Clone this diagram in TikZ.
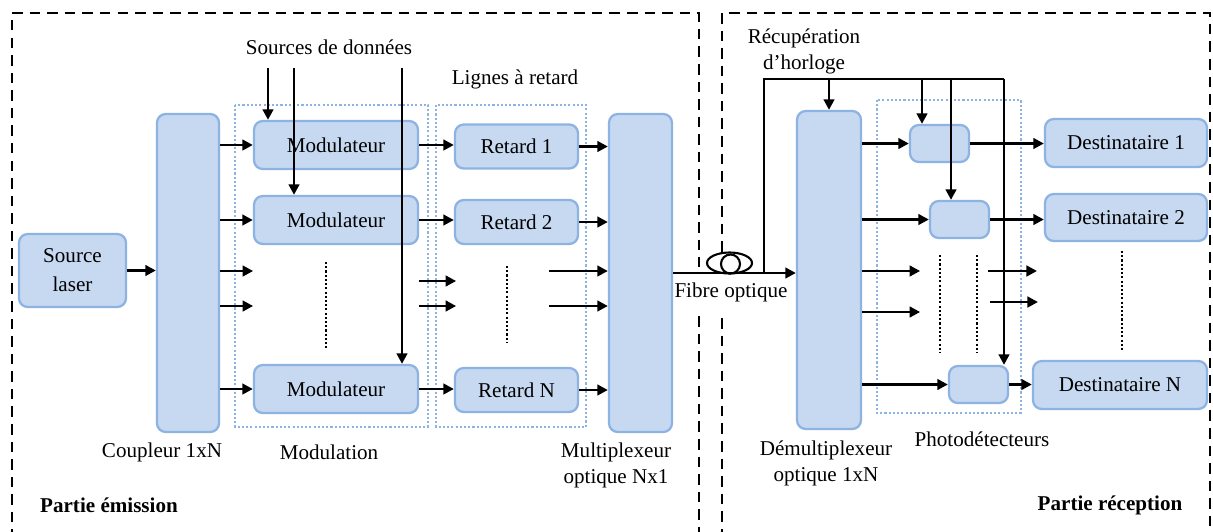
\documentclass[tikz,border=0pt]{standalone}
\usepackage{fontspec}
\setmainfont{Liberation Serif}
\usetikzlibrary{arrows.meta,calc}
\definecolor{boxfill}{HTML}{C6D9F1}
\definecolor{boxline}{HTML}{8DB3E2}
\tikzset{
  blk/.style 2 args={draw=boxline,fill=boxfill,line width=1.3pt,rounded corners=5pt,
    minimum width=#1*0.02cm,minimum height=#2*0.02cm,inner sep=0pt,align=center},
  arr/.style={line width=1.5pt,-{Triangle[length=6pt,width=6pt]}},
  grp/.style={draw=boxline,line width=1.4pt,dash pattern=on 1.2pt off 1.2pt},
  part/.style={line width=1.5pt,dash pattern=on 6pt off 4pt},
  vdots/.style={line width=1.6pt,dash pattern=on 1.2pt off 1.2pt},
}
\begin{document}
\begin{tikzpicture}[x=0.02cm,y=-0.02cm,font=\fontsize{12}{14.8}\selectfont]
\useasboundingbox (0,0) rectangle (1213,531);
%\draw[step=100,gray,very thin] (0,0) grid (1213,531);
\draw[part] (12,540) -- (12,13) -- (699,13) -- (699,267);
\draw[part] (699,316) -- (699,540);
\draw[part] (722,252) -- (722,13) -- (1210,13) -- (1210,540);
\draw[part] (722,318) -- (722,540);

\draw[grp] (235,105) rectangle (428,427);
\draw[grp] (436,105) rectangle (586,427);
\draw[grp] (877,100) rectangle (1021,413);

\node[blk={107}{73},font=\fontsize{12}{16.5}\selectfont] (src) at (72.5,270.5) {Source\\laser};
\node[blk={62}{318}] (coup) at (188,273) {};
\node[blk={164}{48}] (mod1) at (336,145) {Modulateur};
\node[blk={164}{48}] (mod2) at (336,220) {Modulateur};
\node[blk={164}{48}] (modN) at (336,389) {Modulateur};
\node[blk={123}{44}] (ret1) at (516.5,146.5) {Retard 1};
\node[blk={123}{44}] (ret2) at (516.5,222) {Retard 2};
\node[blk={123}{44}] (retN) at (516.5,390) {Retard N};
\node[blk={63}{318}] (mux) at (640.5,273) {};
\node[blk={64}{318}] (demux) at (829,270) {};
\node[blk={59}{37}] (pd1) at (939.5,143.5) {};
\node[blk={59}{37}] (pd2) at (959.5,219.5) {};
\node[blk={59}{37}] (pdN) at (978.5,384.5) {};
\node[blk={162}{48}] (dest1) at (1126,143) {Destinataire 1};
\node[blk={162}{47}] (dest2) at (1126,217.5) {Destinataire 2};
\node[blk={174}{48}] (destN) at (1120,385) {Destinataire N};

\node (lsrc) at (329,47) {Sources de données};
\node (lret) at (515,79) {Lignes à retard};
\node (lcoup) at (162,452) {Coupleur 1xN};
\node (lmod) at (329,452) {Modulation};
\node[align=center] (lmux) at (616,465) {Multiplexeur\\optique Nx1};
\node[font=\fontsize{12}{14.8}\selectfont\bfseries,anchor=west] (lem) at (34,505) {Partie émission};
\node (lfib) at (731,292) {Fibre optique};
\node[align=center] (lclk) at (804,51) {Récupération\\d’horloge};
\node[align=center] (ldemux) at (826,463) {Démultiplexeur\\optique 1xN};
\node (lpd) at (982,439) {Photodétecteurs};
\node[font=\fontsize{12}{14.8}\selectfont\bfseries] (lrec) at (1110,505) {Partie réception};

% emission
\draw[arr] (src.east) -- (src.east -| coup.west);
\foreach \m in {mod1,mod2,modN}
  \draw[arr] (coup.east |- \m.west) -- (\m.west);
\draw[arr] ($(coup.east)+(0,-2)$) -- ++(33,0);
\draw[arr] ($(coup.east)+(0,33)$) -- ++(33,0);
\draw[arr] (mod1.east) -- (mod1.east -| ret1.west);
\draw[arr] (mod2.east) -- (mod2.east -| ret2.west);
\draw[arr] (modN.east) -- (modN.east -| retN.west);
\draw[arr] ($(mod2.east)+(0,61)$) -- ++(37,0);
\draw[arr] ($(mod2.east)+(0,86)$) -- ++(37,0);
\foreach \r in {ret1,ret2,retN}
  \draw[arr] (\r.east) -- (\r.east -| mux.west);
\draw[arr] (549,271) -- (mux.west |- 549,271);
\draw[arr] (549,306) -- (mux.west |- 549,306);
\draw[vdots] (326,262) -- (326,348);
\draw[vdots] (507,266) -- (507,343);

\coordinate (d1) at (268,68);
\coordinate (d2) at (294,68);
\coordinate (d3) at (402,68);
\draw[arr] (d1) -- (d1 |- mod1.north);
\draw[arr] (d2) -- (d2 |- mod2.north);
\draw[arr] (d3) -- (d3 |- modN.north);

% fibre
\draw[arr] (mux.east) -- (mux.east -| demux.west);
\draw[line width=1.2pt] (729.5,263) ellipse [x radius=0.45cm,y radius=0.21cm];
\draw[line width=1.2pt] (730.5,264) circle [radius=0.19cm];

% reception
\coordinate (tap) at (764,273);
\coordinate (clk) at (764,79);
\coordinate (c1) at (922,79);
\coordinate (c2) at (951,79);
\coordinate (c3) at (1004,79);
\draw[line width=1.5pt] (tap) -- (clk) -- (c3);
\draw[arr] (demux.north |- clk) -- (demux.north);
\draw[arr] (c1) -- (c1 |- pd1.north);
\draw[arr] (c2) -- (c2 |- pd2.north);
\draw[arr] (c3) -- (c3 |- pdN.north);

\draw[arr] (demux.east |- pd1.west) -- (pd1.west);
\draw[arr] (demux.east |- pd2.west) -- (pd2.west);
\draw[arr] (demux.east |- pdN.west) -- (pdN.west);
\draw[arr] (demux.east |- 861,271) -- ++(58,0);
\draw[arr] (demux.east |- 861,312) -- ++(58,0);
\draw[arr] (pd1.east) -- (pd1.east -| dest1.west);
\draw[arr] (pd2.east) -- (pd2.east -| dest2.west);
\draw[arr] (pdN.east) -- (pdN.east -| destN.west);
\draw[arr] (988,271) -- ++(49,0);
\draw[arr] (990,302) -- ++(48,0);
\draw[vdots] (940,255) -- (940,353);
\draw[vdots] (977,255) -- (977,353);
\draw[vdots] (1122,251) -- (1122,350);
\end{tikzpicture}
\end{document}
